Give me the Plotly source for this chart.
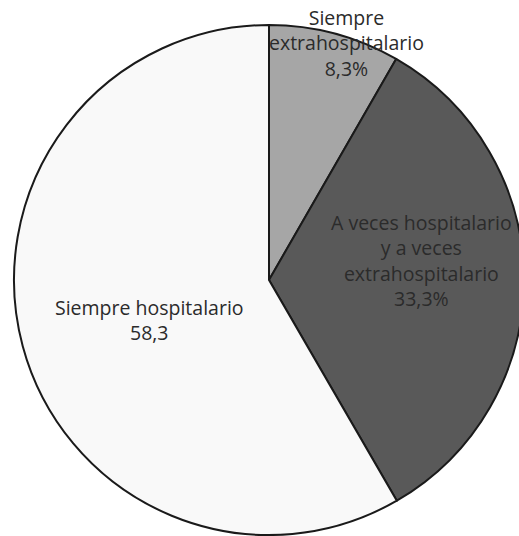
import plotly.graph_objects as go

categories = ["Siempre extrahospitalario", "A veces hospitalario y a veces extrahospitalario", "Siempre hospitalario"]
label_lines = [
    ["Siempre", "extrahospitalario", "8,3%"],
    ["A veces hospitalario", "y a veces", "extrahospitalario", "33,3%"],
    ["Siempre hospitalario", "58,3"],
]
values = [8.3, 33.3, 58.3]
colors = ["#a6a6a6", "#595959", "#f9f9f9"]

W, H = 524, 536  # slightly wider than the window; the right edge is clipped like the reference
fig = go.Figure(go.Pie(
    labels=categories, values=values, sort=False, direction="clockwise", rotation=0,
    marker=dict(colors=colors, line=dict(color="#1a1a1a", width=2)),
    textinfo="none", hoverinfo="label+percent", showlegend=False,
    domain=dict(x=[14 / W, 1.0], y=[1 - 535 / H, 1 - 25 / H]),
))

# label block centres (pixels from top-left)
label_pos = [(346, 43), (421, 260), (149, 320)]
for lines, (px, py) in zip(label_lines, label_pos):
    fig.add_annotation(
        x=px / W, y=1 - py / H, xref="paper", yref="paper",
        text="<br>".join(lines), showarrow=False, align="center",
        font=dict(family="Open Sans", size=19.5, color="#2b2b2b"),
        xanchor="center", yanchor="middle",
    )

fig.update_layout(
    width=W, height=H, margin=dict(l=0, r=0, t=0, b=0),
    paper_bgcolor="white", plot_bgcolor="white",
)
fig.write_html("out.html", config={"displayModeBar": False},
               post_script="document.body.style.margin='0px';document.body.style.overflow='hidden';")
